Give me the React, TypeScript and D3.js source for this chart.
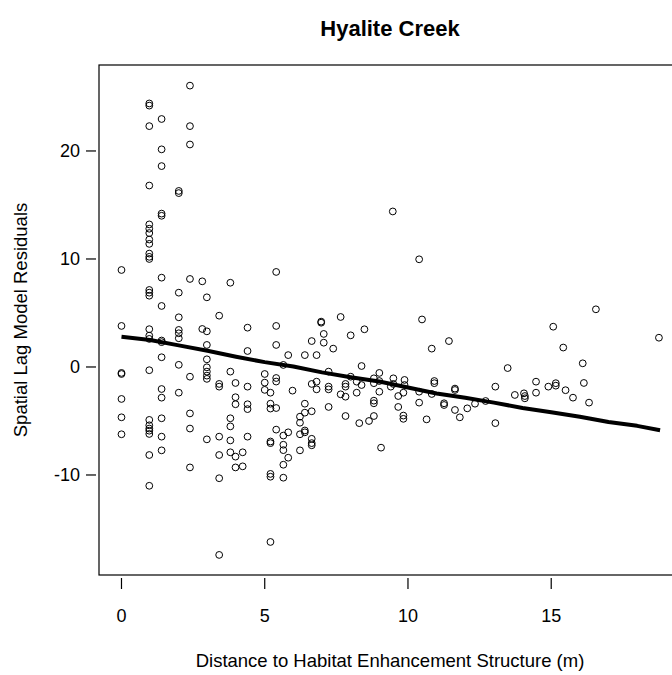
import React from "react";
import * as d3 from "d3";

const width = 672;
const height = 675;

// distances where the points sit, and the residuals for each of them
const distanceGroups = [
  0, 0.97, 1.4, 2.0, 2.39, 2.82, 2.98, 3.41, 3.8, 3.98, 4.23, 4.4, 5.0, 5.2, 5.4, 5.65, 5.82,
  5.97, 6.23, 6.4, 6.64, 6.81, 6.97, 7.06, 7.23, 7.39, 7.65, 7.82, 8.0, 8.21, 8.3, 8.38, 8.48,
  8.64, 8.81, 9.0, 9.06, 9.47, 9.49, 9.4, 9.66, 9.84, 9.88, 10.39, 10.49, 10.65, 10.83, 10.92,
  11.26, 11.43, 11.64, 11.81, 12.07, 12.34, 12.71, 13.05, 13.48, 13.73, 14.05, 14.08, 14.47,
  14.9, 15.07, 15.16, 15.42, 15.5, 15.76, 16.1, 16.14, 16.32, 16.56, 18.76,
];

const residualGroups = [
  [8.98, 3.8, -0.55, -0.65, -2.96, -4.66, -6.23],
  [24.4, 24.2, 22.3, 16.8, 13.2, 12.8, 12.4, 11.8, 11.4, 10.5, 10.2, 10.0, 7.13, 6.88, 6.6, 3.5, 2.9, 2.6, -0.3, -4.9, -5.4, -5.7, -5.9, -6.2, -8.15, -11.0],
  [22.96, 20.15, 18.6, 14.2, 14.0, 8.27, 5.65, 2.45, 2.3, 0.9, -2.04, -2.84, -4.75, -6.45, -7.72],
  [16.3, 16.1, 6.88, 4.6, 3.43, 3.12, 2.66, 0.2, -2.38],
  [26.05, 22.3, 20.6, 8.15, -0.9, -4.3, -5.7, -9.3],
  [7.93, 3.52],
  [6.45, 3.3, 2.04, 0.71, -0.03, -0.43, -0.8, -1.1, -6.7],
  [4.75, -1.57, -1.82, -6.45, -8.15, -10.3, -17.4],
  [7.8, -0.43, -4.75, -5.5, -6.8, -7.9],
  [-1.48, -2.8, -3.45, -8.3, -9.3],
  [-7.9, -9.2],
  [3.64, 1.48, -1.82, -3.45, -3.9, -6.45],
  [-0.65, -1.45, -2.12],
  [-2.38, -3.4, -3.85, -6.9, -7.05, -9.9, -10.16, -16.2],
  [8.8, 3.8, 2.04, -1.02, -1.35, -3.8, -5.8],
  [0.19, -6.35, -7.2, -7.7, -9.05, -10.25],
  [1.1, -6.05, -8.4],
  [-2.19],
  [-4.6, -5.16, -6.23, -7.72],
  [1.1, -3.4, -4.23, -5.88, -6.05],
  [2.4, -1.57, -4.1, -6.65, -7.05, -7.25],
  [1.1, -1.36, -2.07],
  [4.2, 4.1],
  [3.06, 2.25],
  [-0.43, -1.82, -2.07, -3.7],
  [1.7],
  [4.63, -2.53],
  [-1.57, -1.82, -2.75, -4.54],
  [2.93, -0.9],
  [-1.36, -2.38],
  [-5.2],
  [0.09, -1.67],
  [3.49],
  [-5.0],
  [-1.05, -1.5, -3.12, -3.36, -4.54],
  [-0.55, -1.3, -2.29],
  [-7.47],
  [14.4],
  [-1.05, -1.57],
  [-1.82],
  [-2.69, -3.7],
  [-2.38, -4.5, -4.8],
  [-1.2, -1.67],
  [9.97, -2.29, -3.3],
  [4.4],
  [-4.85],
  [1.7, -2.5],
  [-1.3, -1.5],
  [-3.36, -3.52],
  [2.4],
  [-2.0, -2.13, -3.98],
  [-4.66],
  [-3.83],
  [-3.4],
  [-3.15],
  [-1.82, -5.2],
  [-0.1],
  [-2.59],
  [-2.44],
  [-2.69, -2.9],
  [-1.36, -2.38],
  [-1.82],
  [3.73],
  [-1.5, -1.73],
  [1.8],
  [-2.15],
  [-2.84],
  [0.34],
  [-1.48],
  [-3.3],
  [5.34],
  [2.71],
];

// smoothed trend line
const fitX = [0, 1, 2, 3, 4, 5, 6, 7, 8, 9, 10, 11, 12, 13, 14, 15, 16, 17, 18, 18.8];
const fitY = [2.8, 2.5, 2.0, 1.5, 0.95, 0.45, 0.05, -0.5, -0.95, -1.35, -1.9, -2.45, -2.85, -3.3, -3.8, -4.2, -4.6, -5.1, -5.45, -5.85];

const xTicks = [0, 5, 10, 15];
const yTicks = [-10, 0, 10, 20];

const points = distanceGroups.flatMap((d, i) => residualGroups[i].map((r) => ({ d, r })));

const font = "'Liberation Sans', Arial, sans-serif";

export default function App() {
  const x = d3.scaleLinear().domain([-0.785, 19.6]).range([99, 683]);
  const y = d3.scaleLinear().domain([-19.26, 27.96]).range([575, 65]);

  const line = d3
    .line<number>()
    .x((d, i) => x(fitX[i]))
    .y((d) => y(d));

  return (
    <svg
      width={width}
      height={height}
      style={{ position: "absolute", left: 0, top: 0, background: "#fff" }}
      fontFamily={font}
    >
      <rect x={0} y={0} width={width} height={height} fill="#fff" />
      <text x={390} y={36} textAnchor="middle" fontSize={22} fontWeight="bold">
        Hyalite Creek
      </text>

      {/* plot box */}
      <rect x={99} y={65} width={584} height={510} fill="none" stroke="#000" strokeWidth={1.2} />

      {/* x axis */}
      {xTicks.map((t) => (
        <g key={"x" + t}>
          <line x1={x(t)} x2={x(t)} y1={578} y2={589} stroke="#000" strokeWidth={1.2} />
          <text x={x(t)} y={622} textAnchor="middle" fontSize={18}>
            {t}
          </text>
        </g>
      ))}
      <text x={390} y={667} textAnchor="middle" fontSize={18.5}>
        Distance to Habitat Enhancement Structure (m)
      </text>

      {/* y axis */}
      {yTicks.map((t) => (
        <g key={"y" + t}>
          <line x1={86} x2={96} y1={y(t)} y2={y(t)} stroke="#000" strokeWidth={1.2} />
          <text x={80} y={y(t)} dy="0.35em" textAnchor="end" fontSize={18}>
            {t}
          </text>
        </g>
      ))}
      <text
        transform={`translate(27,${(65 + 575) / 2}) rotate(-90)`}
        textAnchor="middle"
        fontSize={18.5}
      >
        Spatial Lag Model Residuals
      </text>

      {/* points */}
      {points.map((p, i) => (
        <circle key={i} cx={x(p.d)} cy={y(p.r)} r={3.4} fill="none" stroke="#000" strokeWidth={1} />
      ))}

      {/* trend */}
      <path d={line(fitY) ?? ""} fill="none" stroke="#000" strokeWidth={4} strokeLinejoin="round" />
    </svg>
  );
}
